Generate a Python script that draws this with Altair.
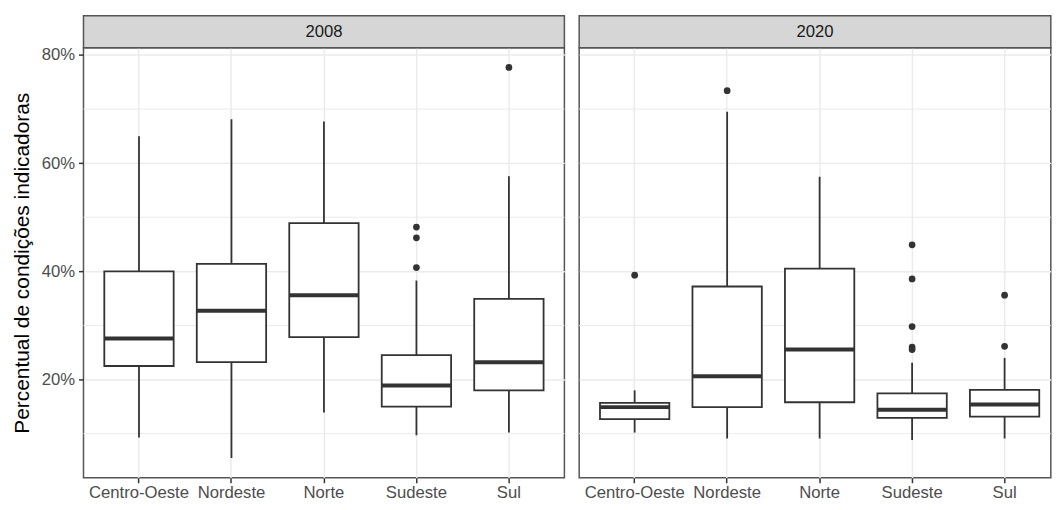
import altair as alt
import pandas as pd

REGIONS = ["Centro-Oeste", "Nordeste", "Norte", "Sudeste", "Sul"]
YEARS = ["2008", "2020"]

# 2008 box statistics (percent)
LOW_2008 = [9.3, 5.5, 13.9, 9.7, 10.2]
Q1_2008 = [22.5, 23.2, 27.85, 15.0, 18.0]
MED_2008 = [27.6, 32.7, 35.6, 18.9, 23.2]
Q3_2008 = [40.0, 41.4, 48.9, 24.5, 34.9]
HIGH_2008 = [65.0, 68.1, 67.7, 38.3, 57.6]
OUT_REGION_2008 = ["Sudeste", "Sudeste", "Sudeste", "Sul"]
OUT_VALUE_2008 = [48.2, 46.2, 40.7, 77.7]

# 2020 box statistics (percent)
LOW_2020 = [10.2, 9.1, 9.1, 8.8, 9.1]
Q1_2020 = [12.7, 14.9, 15.8, 12.9, 13.15]
MED_2020 = [14.9, 20.6, 25.55, 14.4, 15.4]
Q3_2020 = [15.7, 37.2, 40.5, 17.45, 18.1]
HIGH_2020 = [18.0, 69.5, 57.5, 23.1, 24.0]
OUT_REGION_2020 = ["Centro-Oeste", "Nordeste", "Sudeste", "Sudeste", "Sudeste",
                   "Sudeste", "Sudeste", "Sul", "Sul"]
OUT_VALUE_2020 = [39.3, 73.4, 44.9, 38.6, 29.8, 26.0, 25.55, 35.6, 26.15]

Y_TICKS = [20, 40, 60, 80]
MINOR_GRID = [10, 30, 50, 70]

FONT = "Liberation Sans"
DARK = "#333333"
BORDER = "#555555"
GRID = "#EBEBEB"
Y_DOMAIN = [1.84, 81.36]
H = 433
STRIP_H = 32
LABEL_SIZE = 16.8
STEP = 93.1
LEFT_W = STEP * 5.2
RIGHT_W = STEP * 5.1
LW = 1.8


def panel(year, low, q1, med, q3, high, out_r, out_v, width, pad_outer, align, show_y):
    box = pd.DataFrame({"region": REGIONS, "low": low, "q1": q1, "med": med,
                        "q3": q3, "high": high})
    outs = pd.DataFrame({"region": out_r, "value": out_v})
    grid = pd.DataFrame({"g": MINOR_GRID})
    strip = pd.DataFrame({"year": [year]})

    x = alt.X("region:N", sort=REGIONS,
              scale=alt.Scale(domain=REGIONS, paddingInner=0, paddingOuter=pad_outer,
                              align=align),
              axis=alt.Axis(title=None, labelAngle=0, grid=True, bandPosition=0.5,
                            gridColor=GRID, gridWidth=1.5, domain=False,
                            tickColor=DARK, tickSize=5, tickWidth=1.5,
                            labelFont=FONT, labelFontSize=LABEL_SIZE,
                            labelColor="#4D4D4D", labelPadding=2))

    if show_y:
        yaxis = alt.Axis(values=Y_TICKS, labelExpr="datum.value + '%'",
                         title="Percentual de condições indicadoras",
                         titleFont=FONT, titleFontSize=21, titleFontWeight="normal",
                         titleColor="#000000", titleX=-61, titleBaseline="middle",
                         labelFont=FONT, labelFontSize=LABEL_SIZE, labelColor="#4D4D4D",
                         labelPadding=4, tickColor=DARK, tickSize=5, tickWidth=1.5,
                         domain=False, grid=True, gridColor=GRID, gridWidth=1.5)
    else:
        yaxis = alt.Axis(values=Y_TICKS, labels=False, ticks=False, title=None,
                         domain=False, grid=True, gridColor=GRID, gridWidth=1.5)

    def ych(field):
        return alt.Y(field, type="quantitative",
                     scale=alt.Scale(domain=Y_DOMAIN, nice=False, zero=False),
                     axis=yaxis)

    minor = alt.Chart(grid).mark_rule(color=GRID, strokeWidth=1).encode(y=ych("g"))
    whisk = alt.Chart(box).mark_rule(color=DARK, strokeWidth=LW).encode(
        x=x, y=ych("low"), y2="high")
    rect = alt.Chart(box).mark_bar(fill="white", stroke=DARK, strokeWidth=LW,
                                   width=alt.RelativeBandSize(0.75)).encode(
        x=x, y=ych("q1"), y2="q3")
    median = alt.Chart(box).mark_tick(color=DARK, thickness=4, size=0.75 * STEP,
                                      opacity=1).encode(x=x, y=ych("med"))
    points = alt.Chart(outs).mark_circle(color=DARK, size=46, opacity=1).encode(
        x=x, y=ych("value"))
    strip_rect = alt.Chart(strip).mark_rect(fill="#D6D6D6", stroke=BORDER,
                                            strokeWidth=1.5).encode(
        x=alt.value(0), x2=alt.value(width), y=alt.value(-STRIP_H), y2=alt.value(0))
    strip_text = alt.Chart(strip).mark_text(font=FONT, fontSize=LABEL_SIZE,
                                            color="#1A1A1A", baseline="middle").encode(
        text="year:N", x=alt.value(width / 2), y=alt.value(-STRIP_H / 2))

    return alt.layer(minor, whisk, rect, median, points, strip_rect,
                     strip_text).properties(width=width, height=H)


left = panel("2008", LOW_2008, Q1_2008, MED_2008, Q3_2008, HIGH_2008,
             OUT_REGION_2008, OUT_VALUE_2008, LEFT_W, 0.1, 0.5, True)
right = panel("2020", LOW_2020, Q1_2020, MED_2020, Q3_2020, HIGH_2020,
              OUT_REGION_2020, OUT_VALUE_2020, RIGHT_W, 0.05, 1, False)

chart = alt.hconcat(left, right, spacing=11).properties(
    padding={"left": 3, "top": 4.25, "right": 0, "bottom": 0},
    background="white",
).configure_view(stroke=BORDER, strokeWidth=1.5).configure_concat(spacing=11)

chart.save("out.html", embed_options={"renderer": "svg", "actions": False})
